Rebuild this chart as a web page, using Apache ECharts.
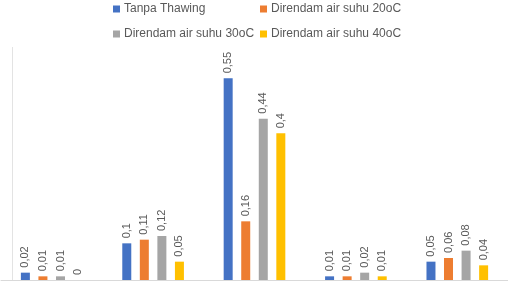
<!DOCTYPE html>
<html>
<head>
<meta charset="utf-8">
<script src="https://cdn.jsdelivr.net/npm/echarts@6/dist/echarts.min.js"></script>
<style>
  html, body { margin: 0; padding: 0; background: #fff; }
  #chart { width: 508px; height: 290px; }
</style>
</head>
<body>
<div id="chart"></div>
<script>
// data
let categories = ['1', '2', '3', '4', '5'];
let tanpaThawing = [0.02, 0.1, 0.55, 0.01, 0.05];
let suhu20 = [0.01, 0.11, 0.16, 0.01, 0.06];
let suhu30 = [0.01, 0.12, 0.44, 0.02, 0.08];
let suhu40 = [0, 0.05, 0.4, 0.01, 0.04];

let fontColor = '#595959';
let font = 'Liberation Sans';

let chart = echarts.init(document.getElementById('chart'));

function makeBar(name, data, color){
    return {
        name: name,
        type: 'bar',
        data: data,
        barWidth: 9,
        barGap: '95%',
        itemStyle: { color: color },
        label: {
            show: true,
            position: 'top',
            rotate: 90,
            align: 'left',
            verticalAlign: 'middle',
            distance: 5,
            color: fontColor,
            fontSize: 11,
            fontFamily: font,
            formatter: p => String(p.value).replace('.', ',')
        }
    };
}

let legendText = { color: fontColor, fontSize: 12, fontFamily: font, padding: [0, 0, 0, -1] };

chart.setOption({
    animation: false,
    legend: [{
        orient: 'vertical',
        left: 108,
        top: -2,
        itemWidth: 7,
        itemHeight: 7,
        itemGap: 13,
        icon: 'rect',
        textStyle: legendText,
        data: ['Tanpa Thawing', 'Direndam air suhu 30oC']
    }, {
        orient: 'vertical',
        left: 255,
        top: -2,
        itemWidth: 7,
        itemHeight: 7,
        itemGap: 13,
        icon: 'rect',
        textStyle: legendText,
        data: ['Direndam air suhu 20oC', 'Direndam air suhu 40oC']
    }],
    grid: { left: 1, right: 0, top: 60, bottom: 10, containLabel: false },
    xAxis: {
        type: 'category',
        data: categories,
        axisTick: { show: false },
        axisLabel: { show: false },
        axisLine: { lineStyle: { color: '#d9d9d9', width: 1 } }
    },
    yAxis: {
        type: 'value',
        min: 0,
        max: 0.6,
        show: false
    },
    graphic: [{
        type: 'line',
        shape: { x1: 12.5, y1: 47, x2: 12.5, y2: 280 },
        style: { stroke: '#e3e3e3', lineWidth: 1 }
    }],
    series: [
        makeBar('Tanpa Thawing', tanpaThawing, '#4472C4'),
        makeBar('Direndam air suhu 20oC', suhu20, '#ED7D31'),
        makeBar('Direndam air suhu 30oC', suhu30, '#A5A5A5'),
        makeBar('Direndam air suhu 40oC', suhu40, '#FFC000')
    ]
});
</script>
</body>
</html>
